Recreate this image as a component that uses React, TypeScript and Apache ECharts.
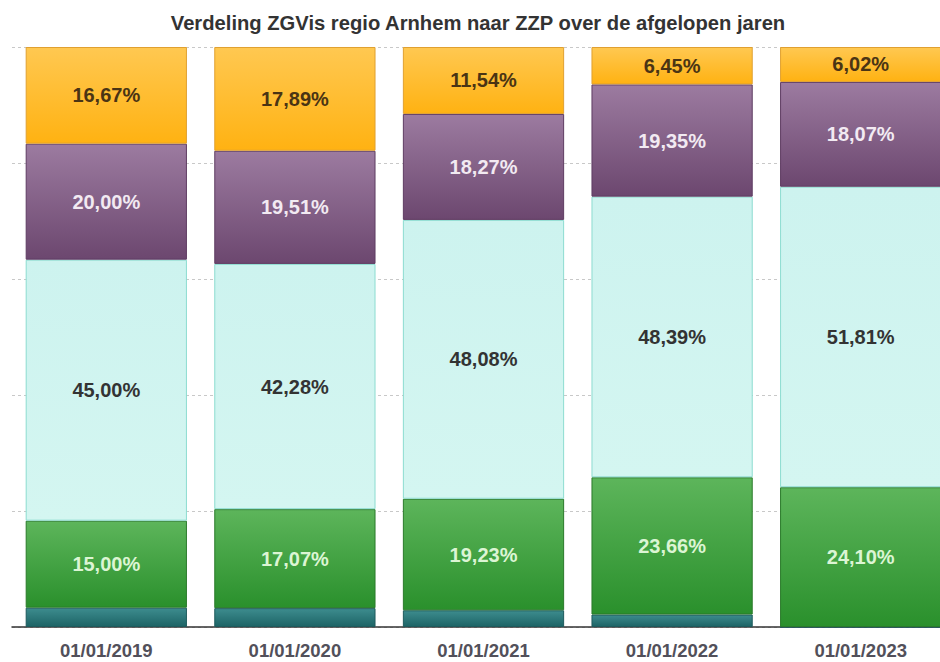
import React, { useEffect, useRef } from "react";
import * as echarts from "echarts";

const categories = ["01/01/2019", "01/01/2020", "01/01/2021", "01/01/2022", "01/01/2023"];
const tealValues = [3.33, 3.25, 2.88, 2.15, 0];
const greenValues = [15.0, 17.07, 19.23, 23.66, 24.1];
const cyanValues = [45.0, 42.28, 48.08, 48.39, 51.81];
const purpleValues = [20.0, 19.51, 18.27, 19.35, 18.07];
const orangeValues = [16.67, 17.89, 11.54, 6.45, 6.02];
const titleText = "Verdeling ZGVis regio Arnhem naar ZZP over de afgelopen jaren";

const grad = (a: string, b: string) => ({
  type: "linear",
  x: 0,
  y: 0,
  x2: 0,
  y2: 1,
  colorStops: [
    { offset: 0, color: a },
    { offset: 1, color: b },
  ],
});

const fmt = (p: any) => (p.value > 0 ? p.value.toFixed(2).replace(".", ",") + "%" : "");

export default function App() {
  const ref = useRef<HTMLDivElement>(null);
  useEffect(() => {
    if (!ref.current) return;
    const chart = echarts.init(ref.current, undefined, { renderer: "svg" });
    const mk = (name: string, data: number[], c1: string, c2: string, border: string, labelColor: string | null) => ({
      name,
      type: "bar",
      stack: "total",
      data,
      barCategoryGap: "14.5%",
      itemStyle: { color: grad(c1, c2), borderColor: border, borderWidth: 1 },
      label: labelColor
        ? {
            show: true,
            position: "inside",
            formatter: fmt,
            color: labelColor,
            fontSize: 20,
            fontWeight: "bold",
            fontFamily: "Liberation Sans, Arial, sans-serif",
          }
        : { show: false },
    });
    chart.setOption({
      animation: false,
      backgroundColor: "#ffffff",
      title: {
        text: titleText,
        left: "center",
        top: 8,
        textStyle: {
          fontSize: 20.2,
          fontWeight: "bold",
          color: "#333333",
          fontFamily: "Liberation Sans, Arial, sans-serif",
        },
      },
      grid: { left: 12, right: 1, top: 47, bottom: 35 },
      xAxis: {
        type: "category",
        data: categories,
        axisLine: { lineStyle: { color: "#333333", width: 1.5 } },
        axisTick: { alignWithLabel: true, length: 6, lineStyle: { color: "#333333", width: 1.5 } },
        axisLabel: {
          color: "#52505a",
          fontSize: 18.5,
          fontWeight: "bold",
          margin: 14,
          fontFamily: "Liberation Sans, Arial, sans-serif",
        },
      },
      yAxis: {
        type: "value",
        min: 0,
        max: 100,
        interval: 20,
        axisLabel: { show: false },
        axisLine: { show: false },
        axisTick: { show: false },
        splitLine: { lineStyle: { color: "#c8c8c8", type: [3, 3], width: 1 } },
      },
      series: [
        mk("teal", tealValues, "#3d8c8e", "#1d6466", "#1d5a5c", null),
        mk("green", greenValues, "#5db55b", "#2a902c", "#2a7a2a", "#dcf5d4"),
        mk("cyan", cyanValues, "#cdf3ef", "#d4f6f1", "#8cdcd0", "#333333"),
        mk("purple", purpleValues, "#9c7ba0", "#6c476f", "#5e3c62", "#f2eaf2"),
        mk("orange", orangeValues, "#ffc851", "#ffb212", "#e0a030", "#4a3414"),
      ],
    });
    return () => chart.dispose();
  }, []);
  return (
    <div style={{ position: "fixed", left: 0, top: 0, width: 940, height: 662, overflow: "hidden", background: "#fff" }}>
      <div ref={ref} style={{ width: 956, height: 662 }} />
    </div>
  );
}
